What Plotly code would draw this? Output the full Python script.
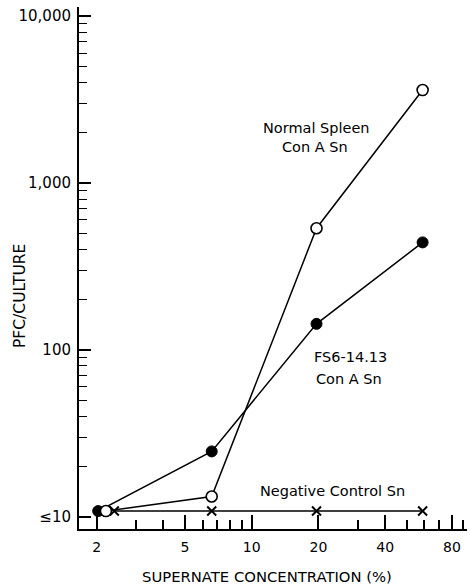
import plotly.graph_objects as go

# Data
normal_x = [2.2, 6.6, 19.6, 59]
normal_y = [10.8, 13.2, 535, 3600]
fs6_x = [2.03, 6.6, 19.6, 59]
fs6_y = [10.8, 24.6, 143, 440]
neg_x = [2.4, 6.6, 19.6, 59]
neg_y = [10.8, 10.8, 10.8, 10.8]

x_tickvals = [2, 5, 10, 20, 40, 80]
x_ticktext = ["2", "5", "10", "20", "40", "80"]
x_minor = [3, 4, 6, 7, 8, 9, 30, 50, 60, 70, 90]
y_tickvals = [10, 100, 1000, 10000]
y_ticktext = ["\u226410", "100", "1,000", "10,000"]
y_minor = [m * d for d in (10, 100, 1000) for m in range(2, 10)]

FONT = "DejaVu Sans"
W, H = 470, 585
L, R, T, B = 79, 3, 7, 56

fig = go.Figure()
fig.add_trace(go.Scatter(x=neg_x, y=neg_y, mode="lines+markers",
                         line=dict(color="black", width=1.5),
                         marker=dict(symbol="x-thin", size=9,
                                     line=dict(color="black", width=2))))
fig.add_trace(go.Scatter(x=fs6_x, y=fs6_y, mode="lines+markers",
                         line=dict(color="black", width=1.5),
                         marker=dict(symbol="circle", size=11, color="black",
                                     line=dict(color="black", width=1))))
fig.add_trace(go.Scatter(x=normal_x, y=normal_y, mode="lines+markers",
                         line=dict(color="black", width=1.5),
                         marker=dict(symbol="circle", size=11, color="white",
                                     line=dict(color="black", width=1.6))))

pw = W - L - R
ph = H - T - B

def px(x):
    return (x - L) / pw

def py(y):
    return (H - B - y) / ph

def ann(text, x, y, size=14.5, angle=0):
    fig.add_annotation(text=text, x=px(x), y=py(y), xref="paper", yref="paper",
                       showarrow=False, xanchor="center", yanchor="middle",
                       textangle=angle, font=dict(family=FONT, size=size, color="#000000"))

ann("Normal Spleen", 316, 128)
ann("Con A Sn", 315, 147)
ann("FS6-14.13", 350, 357)
ann("Con A Sn", 349, 379)
ann("Negative Control Sn", 332, 491)
ann("PFC/CULTURE", 20, 296, size=15.5, angle=-90)
ann("SUPERNATE CONCENTRATION (%)", 267, 577, size=14.8)

fig.update_xaxes(type="log", range=[0.221, 1.971],
                 tickvals=x_tickvals, ticktext=x_ticktext,
                 ticks="inside", ticklen=14, tickwidth=1.5, tickcolor="black",
                 minor=dict(tickvals=x_minor, ticks="inside", ticklen=9,
                            tickwidth=1.5, tickcolor="black"),
                 showline=True, linecolor="black", linewidth=2,
                 showgrid=False, zeroline=False, ticklabelstandoff=4,
                 tickfont=dict(family=FONT, size=14, color="black"))
fig.update_yaxes(type="log", range=[0.926, 4.054],
                 tickvals=y_tickvals, ticktext=y_ticktext,
                 ticks="inside", ticklen=12, tickwidth=1.5, tickcolor="black",
                 minor=dict(tickvals=y_minor, ticks="inside", ticklen=8,
                            tickwidth=1.2, tickcolor="black"),
                 showline=True, linecolor="black", linewidth=2,
                 showgrid=False, zeroline=False, ticklabelstandoff=3,
                 tickfont=dict(family=FONT, size=15, color="black"))

fig.update_layout(width=W, height=H, margin=dict(l=L, r=R, t=T, b=B),
                  paper_bgcolor="white", plot_bgcolor="white",
                  showlegend=False, font=dict(family=FONT, color="black"))

fig.write_html("out.html")
